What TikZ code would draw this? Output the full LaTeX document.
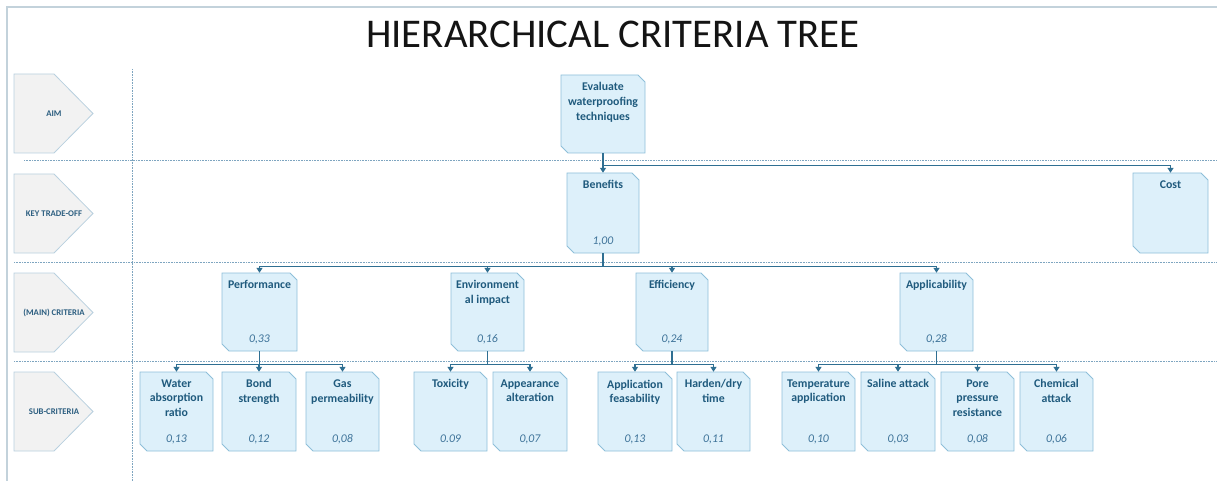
\documentclass[tikz,border=0pt]{standalone}
\usepackage{fontspec}
\setmainfont{Carlito}
\usetikzlibrary{arrows.meta,calc}

\definecolor{boxfill}{HTML}{DDF0FA}
\definecolor{boxedge}{HTML}{8EBFD9}
\definecolor{boxtext}{HTML}{1F5A7D}
\definecolor{valtext}{HTML}{3E7399}
\definecolor{lanefill}{HTML}{F2F2F2}
\definecolor{laneedge}{HTML}{B9D0DF}
\definecolor{lanetext}{HTML}{2C5E80}
\definecolor{linkcol}{HTML}{2F6F92}
\definecolor{rulecol}{HTML}{7EA5C0}
\definecolor{framecol}{HTML}{C3D2DB}

\tikzset{
  crshape/.style={fill=boxfill, draw=boxedge, line width=0.9pt, line join=miter},
  crhold/.style={inner sep=0pt, draw=none},
  crtitle/.style={anchor=north, inner sep=0pt, align=center, text=boxtext,
    font=\fontsize{11.8}{14.6}\selectfont\bfseries},
  crvalue/.style={inner sep=0pt, text=valtext, font=\fontsize{11.8}{14}\selectfont\itshape},
  link/.style={draw=linkcol, line width=1.3pt, -{Triangle[width=6pt,length=5pt]}},
  divider/.style={draw=rulecol, line width=0.8pt, dash pattern=on 0.8pt off 0.8pt},
  laneshape/.style={fill=lanefill, draw=laneedge, line width=0.8pt},
  lanelabel/.style={text=lanetext, font=\fontsize{8.7}{10}\selectfont\bfseries, inner sep=0pt},
}

% criterion box: name, left, top, right, bottom, title, weight
\newcommand\crbox[7]{%
  \path[crshape] (#2,-#3) -- (#4-7,-#3) -- (#4,-#3-7) -- (#4,-#5) -- (#2+7,-#5) -- (#2,-#5+7) -- cycle;
  \node[crhold, minimum width=#4pt-#2pt, minimum height=#5pt-#3pt] (#1) at ({(#2+#4)/2},{-(#3+#5)/2}) {};
  \node[crtitle] (#1-title) at ({(#2+#4)/2},{-#3-7.5}) {#6};
  \node[crvalue] (#1-value) at ({(#2+#4)/2},{-#5+12}) {#7};
}

% level label on the left: name, top, bottom, text
\newcommand\lanetag[4]{%
  \path[laneshape] (14,-#2) -- (54,-#2) -- (93,{-(#2+#3)/2}) -- (54,-#3) -- (14,-#3) -- cycle;
  \node[lanelabel] (#1) at (54,{-(#2+#3)/2}) {#4};
}

\begin{document}
\begin{tikzpicture}[x=1pt,y=1pt]
\useasboundingbox (0,0) rectangle (1217,-481);

% frame
\draw[framecol, line width=1.6pt] (7,-481) -- (7,-7) -- (1217,-7);

% title
\node[font=\fontsize{40.8}{48}\selectfont, text=black!92, anchor=base, inner sep=0pt] (title) at (613,-47.5) {HIERARCHICAL CRITERIA TREE};

% level separators
\draw[divider] (24,-160) -- (1217,-160);
\draw[divider] (14,-262) -- (1217,-262);
\draw[divider] (14,-361) -- (1217,-361);
\draw[divider] (132,-69) -- (132,-481);

% level labels
\lanetag{lane-aim}{74}{153}{AIM}
\lanetag{lane-key}{174}{253}{KEY TRADE-OFF}
\lanetag{lane-main}{273}{352}{(MAIN) CRITERIA}
\lanetag{lane-sub}{372}{451}{SUB-CRITERIA}

% aim and trade-off
\crbox{eval}{561}{75}{645}{153}{Evaluate\\waterproofing\\techniques}{}
\crbox{ben}{567}{173}{639}{253}{Benefits}{1,00}
\crbox{cost}{1133}{173}{1208}{253}{Cost}{}

% main criteria
\crbox{perf}{222}{273}{297}{351}{Performance}{0,33}
\crbox{env}{451}{273}{524}{351}{Environment\\al impact}{0,16}
\crbox{eff}{636}{273}{708}{351}{Efficiency}{0,24}
\crbox{appl}{900}{273}{973}{351}{Applicability}{0,28}

% sub-criteria
\crbox{water}{140}{372}{213}{451}{Water\\absorption\\ratio}{0,13}
\crbox{bond}{222}{372}{296}{451}{Bond\\strength}{0,12}
\crbox{gas}{306}{372}{379}{451}{Gas\\permeability}{0,08}
\crbox{tox}{414}{372}{487}{451}{Toxicity}{0.09}
\crbox{appear}{493}{372}{567}{451}{Appearance\\alteration}{0,07}
\crbox{feas}{598}{372}{672}{451}{Application\\feasability}{0,13}
\crbox{harden}{677}{372}{750}{451}{Harden/dry\\time}{0,11}
\crbox{temp}{782}{372}{855}{451}{Temperature\\application}{0,10}
\crbox{saline}{861}{372}{935}{451}{Saline attack}{0,03}
\crbox{pore}{941}{372}{1014}{451}{Pore\\pressure\\resistance}{0,08}
\crbox{chem}{1020}{372}{1093}{451}{Chemical\\attack}{0,06}

% connectors
\draw[link] (eval.south) -- (ben.north);
\draw[link] (eval.south) -- ++(0,-12) -| (cost.north);
\foreach \m in {perf,env,eff,appl}
  \draw[link] (ben.south) -- ++(0,-13) -| (\m.north);
\foreach \s in {water,bond,gas}
  \draw[link] (perf.south) -- ++(0,-13) -| (\s.north);
\foreach \s in {tox,appear}
  \draw[link] (env.south) -- ++(0,-13) -| (\s.north);
\foreach \s in {feas,harden}
  \draw[link] (eff.south) -- ++(0,-13) -| (\s.north);
\foreach \s in {temp,saline,pore,chem}
  \draw[link] (appl.south) -- ++(0,-13) -| (\s.north);
\end{tikzpicture}
\end{document}
